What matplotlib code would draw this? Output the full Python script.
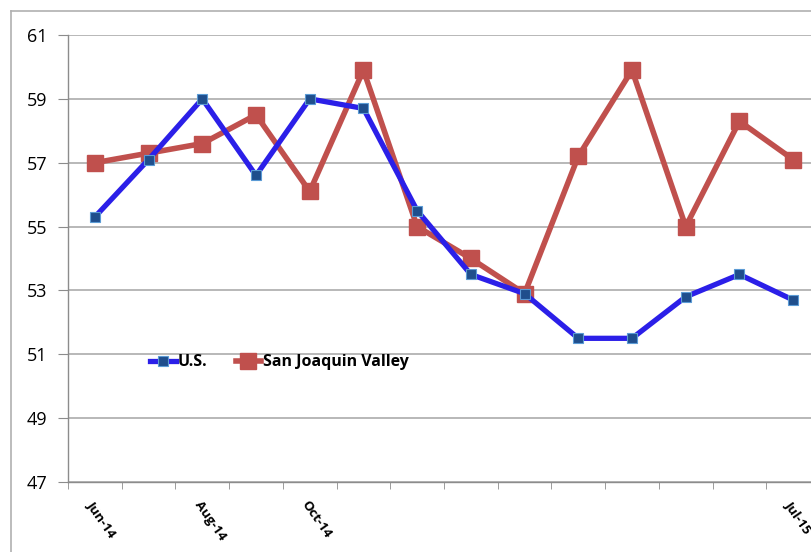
import matplotlib
matplotlib.use("Agg")
import matplotlib.pyplot as plt
from matplotlib.lines import Line2D

months = ["Jun-14", "Jul-14", "Aug-14", "Sep-14", "Oct-14", "Nov-14", "Dec-14",
          "Jan-15", "Feb-15", "Mar-15", "Apr-15", "May-15", "Jun-15", "Jul-15"]
shown_labels = ["Jun-14", "", "Aug-14", "", "Oct-14", "", "", "", "", "", "", "", "", "Jul-15"]
us = [55.3, 57.1, 59.0, 56.6, 59.0, 58.7, 55.5, 53.5, 52.9, 51.5, 51.5, 52.8, 53.5, 52.7]
sjv = [57.0, 57.3, 57.6, 58.5, 56.1, 59.9, 55.0, 54.0, 52.9, 57.2, 59.9, 55.0, 58.3, 57.1]
y_ticks = [47, 49, 51, 53, 55, 57, 59, 61]

plt.rcParams['font.family'] = ['Open Sans', 'DejaVu Sans']

fig = plt.figure(figsize=(8.11, 5.52), dpi=100)
# plot area runs past the right edge, like the cropped original
ax = fig.add_axes([68 / 811, 70 / 552, 752 / 811, 447 / 552])

x = list(range(len(months)))
ax.plot(x, us, color='#2B1FE8', lw=3.8, marker='s', markersize=7,
        markerfacecolor='#1F4E8C', markeredgecolor='#5B9BD5', markeredgewidth=0.8,
        label='U.S.', zorder=3)
ax.plot(x, sjv, color='#C0504D', lw=4.0, marker='s', markersize=11,
        markerfacecolor='#C0504D', markeredgecolor='#C0504D',
        label='San Joaquin Valley', zorder=2)

ax.set_xlim(-0.5, len(months) - 0.5)
ax.set_ylim(47, 61)
ax.set_yticks(y_ticks)
ax.set_yticklabels([str(v) for v in y_ticks], fontsize=13)
ax.yaxis.grid(True, color='#ABABAB', lw=1.2)
ax.set_axisbelow(True)

ax.set_xticks(x)
ax.set_xticklabels(shown_labels, rotation=-55, ha='left', va='top',
                   rotation_mode='anchor', fontsize=9.5, fontweight='bold')
ax.set_xticks([i - 0.5 for i in range(len(months) + 1)], minor=True)
ax.tick_params(axis='x', which='major', length=0, pad=12)
ax.tick_params(axis='x', which='minor', length=5, color='#8C8C8C')
ax.tick_params(axis='y', length=7, color='#8C8C8C', pad=8)

for side in ['top', 'right']:
    ax.spines[side].set_visible(False)
for side in ['left', 'bottom']:
    ax.spines[side].set_color('#8C8C8C')
    ax.spines[side].set_linewidth(1.0)

ax.legend(loc='center left', bbox_to_anchor=(0.09, 0.268), ncol=2, frameon=False,
          handlelength=1.6, handletextpad=0.1, columnspacing=1.8,
          prop={'weight': 'bold', 'size': 11.5})

# outer chart border (top and left only visible)
fig.add_artist(Line2D([11 / 811, 1], [541 / 552, 541 / 552], color='#B0B0B0', lw=1.2,
                      transform=fig.transFigure))
fig.add_artist(Line2D([11 / 811, 11 / 811], [0, 541 / 552], color='#B0B0B0', lw=1.2,
                      transform=fig.transFigure))

fig.savefig("out.png", dpi=100)
